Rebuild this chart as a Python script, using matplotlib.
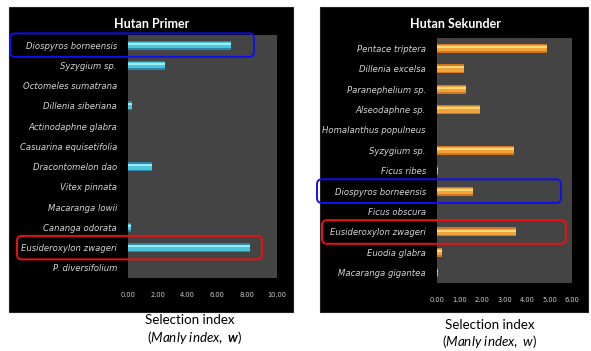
import matplotlib.pyplot as plt
import matplotlib.transforms as mtransforms
from matplotlib.patches import Rectangle, FancyBboxPatch

plt.rcParams['mathtext.fontset'] = 'custom'
plt.rcParams['mathtext.rm'] = 'Lato'
plt.rcParams['mathtext.it'] = 'Lato:italic'
plt.rcParams['mathtext.bf'] = 'Lato:italic:bold'

# species selection index (Manly's w), listed top to bottom
primer_species = ['Diospyros borneensis', 'Syzygium sp.', 'Octomeles sumatrana',
                  'Dillenia siberiana', 'Actinodaphne glabra', 'Casuarina equisetifolia',
                  'Dracontomelon dao', 'Vitex pinnata', 'Macaranga lowii',
                  'Cananga odorata', 'Eusideroxylon zwageri', 'P. diversifolium']
primer_w = [6.9, 2.5, 0.0, 0.3, 0.0, 0.0, 1.6, 0.0, 0.0, 0.2, 8.2, 0.0]

sekunder_species = ['Pentace triptera', 'Dillenia excelsa', 'Paranephelium sp.',
                    'Alseodaphne sp.', 'Homalanthus populneus', 'Syzygium sp.',
                    'Ficus ribes', 'Diospyros borneensis', 'Ficus obscura',
                    'Eusideroxylon zwageri', 'Euodia glabra', 'Macaranga gigantea']
sekunder_w = [4.9, 1.2, 1.3, 1.9, 0.0, 3.4, 0.05, 1.6, 0.0, 3.5, 0.2, 0.05]

primer_ticks = [0, 2, 4, 6, 8, 10]
sekunder_ticks = [0, 1, 2, 3, 4, 5, 6]

W, H = 591, 351
fig = plt.figure(figsize=(W / 100, H / 100), dpi=100)
fig.patch.set_facecolor('white')


def px_box(x0, y0, x1, y1):
    # pixel box (top-left origin) -> figure fraction rect
    return [x0 / W, 1 - y1 / H, (x1 - x0) / W, (y1 - y0) / H]


# black chart backgrounds
for x0, x1 in [(9, 293), (320, 588)]:
    fig.patches.append(Rectangle((x0 / W, 1 - 312 / H), (x1 - x0) / W, 305 / H,
                                 transform=fig.transFigure, facecolor='black',
                                 edgecolor='#222222', lw=0.8, zorder=-1))


def panel(rect, species, vals, ticks, title, title_x, dark, mid, light):
    ax = fig.add_axes(px_box(*rect))
    ax.set_facecolor('#444444')
    y = list(range(len(species)))
    ax.barh(y, vals, height=0.44, color=dark, zorder=2)
    ax.barh(y, vals, height=0.30, color=mid, zorder=3)
    ax.barh([v - 0.07 for v in y], vals, height=0.10, color=light, zorder=4)
    ax.set_ylim(len(species) - 0.5, -0.5)
    ax.set_xlim(ticks[0], ticks[-1])
    ax.set_yticks(y)
    ax.set_yticklabels(species, fontsize=6.1, style='italic', color='#d5d5d5')
    ax.set_xticks(ticks)
    ax.set_xticklabels(['%.2f' % t for t in ticks], fontsize=4.8, color='#cfcfcf')
    ax.tick_params(axis='both', length=0)
    ax.tick_params(axis='y', pad=8)
    ax.tick_params(axis='x', pad=10)
    for s in ax.spines.values():
        s.set_visible(False)
    fig.text(title_x / W, 1 - 24 / H, title, ha='center', va='center',
             fontsize=9, fontweight='bold', color='white', family='Lato')
    return ax


ax1 = panel((128, 35, 277, 278), primer_species, primer_w, primer_ticks,
            'Hutan Primer', 152, '#2a86ad', '#4cc6dc', '#9beef5')
ax2 = panel((437, 38, 572, 283), sekunder_species, sekunder_w, sekunder_ticks,
            'Hutan Sekunder', 455, '#d4761e', '#f2a23a', '#ffd878')

# axis captions under each chart
fig.text(190 / W, 1 - 320 / H, 'Selection index', ha='center', va='center',
         fontsize=9.6, family='Lato')
fig.text(195 / W, 1 - 337 / H, r'($\it{Manly\ index,}$ $\mathbf{w}$)',
         ha='center', va='center', fontsize=9.6, family='Lato')
fig.text(490 / W, 1 - 325 / H, 'Selection index', ha='center', va='center',
         fontsize=9.6, family='Lato')
fig.text(490 / W, 1 - 342 / H, r'($\it{Manly\ index,\ w}$)', ha='center',
         va='center', fontsize=9.6, family='Lato')


# highlight frames around selected rows
def highlight(ax, row, x0, x1, color):
    ytop = ax.transData.transform((0, row - 0.58))[1]
    ybot = ax.transData.transform((0, row + 0.58))[1]
    box = FancyBboxPatch((x0, ybot), x1 - x0, ytop - ybot,
                         boxstyle='round,pad=0,rounding_size=5',
                         transform=mtransforms.IdentityTransform(),
                         facecolor='none', edgecolor=color, lw=1.4, zorder=10)
    fig.patches.append(box)


highlight(ax1, 0, 10, 254, '#1010ee')
highlight(ax1, 10, 17, 262, '#ee1010')
highlight(ax2, 7, 317, 561, '#1010ee')
highlight(ax2, 9, 322, 566, '#ee1010')

fig.savefig('out.png', dpi=100)
